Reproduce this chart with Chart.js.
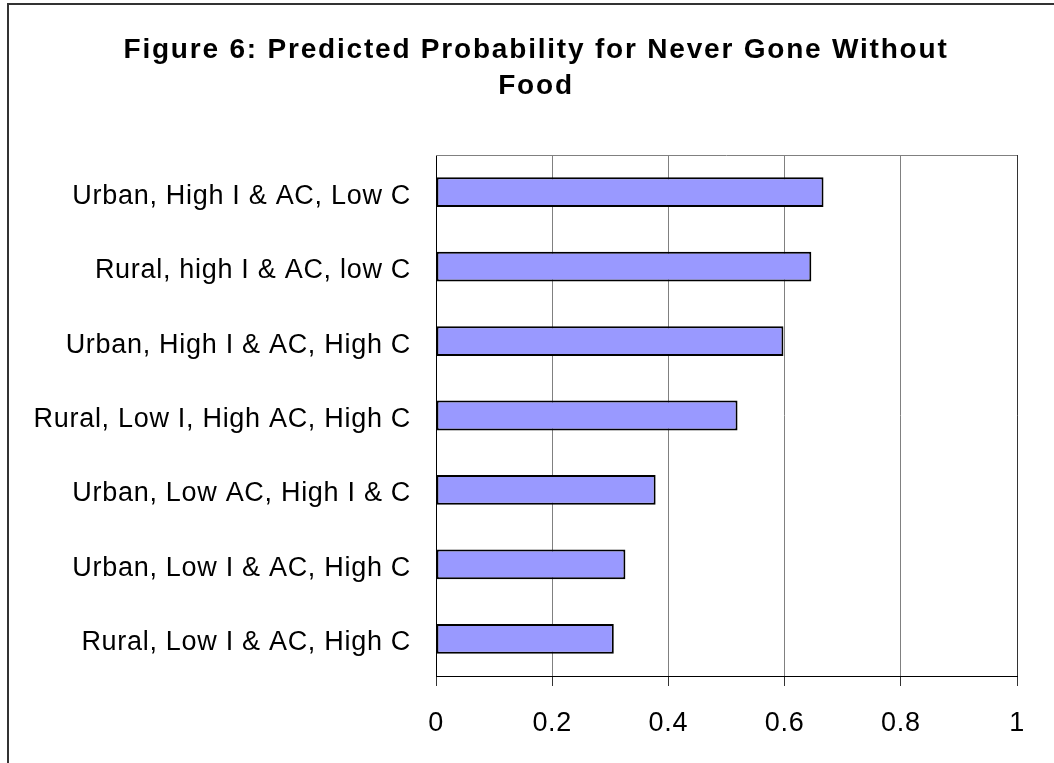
<!DOCTYPE html>
<html>
<head>
<meta charset="utf-8">
<script src="https://cdn.jsdelivr.net/npm/chart.js@4.4.0/dist/chart.umd.min.js"></script>
<style>
  html, body { margin: 0; padding: 0; background: #fff; }
  #wrap { width: 1054px; height: 763px; }
</style>
</head>
<body>
<div id="wrap"><canvas id="chart-bars"></canvas></div>
<script>
// Chart data
const categories = [
    "Urban, High I & AC, Low C",
    "Rural, high I & AC, low C",
    "Urban, High I & AC, High C",
    "Rural, Low I, High AC, High C",
    "Urban, Low AC, High I & C",
    "Urban, Low I & AC, High C",
    "Rural, Low I & AC, High C"
];
const probabilities = [0.667, 0.646, 0.598, 0.519, 0.378, 0.326, 0.306];
const xTickLabels = ["0", "0.2", "0.4", "0.6", "0.8", "1"];
const titleLines = ["Figure 6: Predicted Probability for Never Gone Without", "Food"];

const fontFamily = "Liberation Sans, Arial, sans-serif";

// outer frame, plot area top/right border and the title
const framePlugin = {
    id: "frame",
    beforeDraw(chart) {
        const c = chart.ctx;
        c.save();
        c.strokeStyle = "#333";
        c.lineWidth = 2;
        c.beginPath();
        c.moveTo(8, chart.height);
        c.lineTo(8, 4);
        c.lineTo(chart.width, 4);
        c.stroke();
        c.restore();
        // the old rendering draws its glyphs a little wider
        c.letterSpacing = "0.7px";
    },
    beforeDatasetsDraw(chart) {
        const a = chart.chartArea;
        const c = chart.ctx;
        c.save();
        c.lineWidth = 1;
        c.strokeStyle = "#808080";
        c.beginPath();
        c.moveTo(a.left, a.top + 0.5);
        c.lineTo(a.right, a.top + 0.5);
        c.stroke();
        c.strokeStyle = "#333";
        c.beginPath();
        c.moveTo(a.right + 0.5, a.top);
        c.lineTo(a.right + 0.5, a.bottom);
        c.stroke();
        c.restore();
    },
    afterDraw(chart) {
        const c = chart.ctx;
        c.save();
        c.letterSpacing = "1.8px";
        c.font = "bold 28px " + fontFamily;
        c.fillStyle = "#000";
        c.textAlign = "center";
        c.textBaseline = "alphabetic";
        c.fillText(titleLines[0], 536, 58);
        c.fillText(titleLines[1], 536, 94);
        c.restore();
        c.letterSpacing = "0px";
    }
};

const chartProb = {
    type: "bar",
    data: {
        labels: categories,
        datasets: [{
            label: "Probability",
            data: probabilities,
            backgroundColor: "#9999FF",
            borderColor: "#000",
            borderWidth: 2,
            borderSkipped: false,
            categoryPercentage: 1,
            barPercentage: 0.4
        }]
    },
    options: {
        indexAxis: "y",
        responsive: true,
        maintainAspectRatio: false,
        animation: false,
        layout: {
            padding: { left: 0, right: 37, top: 155, bottom: 0 }
        },
        plugins: {
            legend: { display: false },
            tooltip: { enabled: false },
            title: { display: false }
        },
        scales: {
            x: {
                min: 0,
                max: 1,
                afterFit(scale) { scale.height = 87; },
                grid: {
                    display: true,
                    drawOnChartArea: true,
                    drawTicks: true,
                    tickLength: 10,
                    color: "#808080",
                    tickColor: "#333",
                    lineWidth: 1
                },
                border: { display: true, color: "#000", width: 1 },
                ticks: {
                    stepSize: 0.2,
                    padding: 21,
                    color: "#000",
                    font: { family: fontFamily, size: 27, lineHeight: 1.2 },
                    callback: (v, i) => xTickLabels[i]
                }
            },
            y: {
                grid: { display: false, drawTicks: false },
                border: { display: true, color: "#000", width: 1 },
                afterFit(scale) { scale.width = 436; },
                ticks: {
                    padding: 25,
                    labelOffset: 4,
                    color: "#000",
                    font: { family: fontFamily, size: 27, lineHeight: 1.2 }
                }
            }
        }
    },
    plugins: [framePlugin]
};

const ctx = document.getElementById("chart-bars").getContext("2d");
const chart1 = new Chart(ctx, chartProb);
</script>
</body>
</html>
